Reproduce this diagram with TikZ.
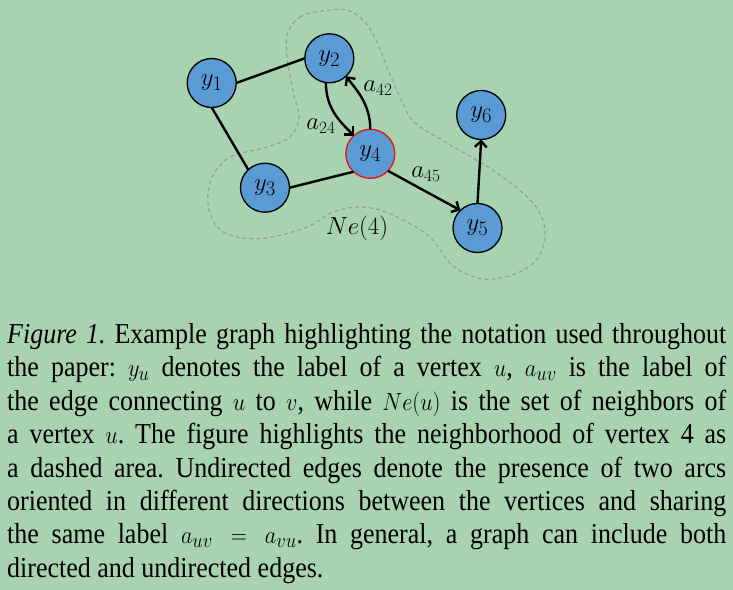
\documentclass[tikz,border=0pt]{standalone}
\usepackage{fontspec}
\setmainfont{Liberation Serif}
\usetikzlibrary{arrows.meta}
\definecolor{bg}{RGB}{169,210,176}
\definecolor{vblue}{RGB}{91,155,213}
\definecolor{dashgray}{RGB}{150,160,152}
\definecolor{vred}{RGB}{230,20,20}
\begin{document}
\begin{tikzpicture}[x=1bp,y=-1bp,
  vertex/.style={circle,draw=black,fill=vblue,line width=1.3bp,minimum size=49bp,inner sep=0pt,outer sep=0pt,font=\fontsize{29}{32}\selectfont},
  focus/.style={vertex,draw=vred},
  edge/.style={line width=2.4bp,draw=black},
  arc/.style={edge,-{Straight Barb[length=6bp,width=12bp]}},
  elabel/.style={font=\fontsize{23}{26}\selectfont,inner sep=0pt},
  hood/.style={draw=dashgray,line width=1.2bp,dash pattern=on 4bp off 3bp},
  caption/.style={anchor=north west,inner sep=0pt,xscale=0.9,transform shape,text width=799bp,align=justify,
      font=\fontsize{29}{33.5}\selectfont}]
\fill[bg] (0,0) rectangle (733,590);
\useasboundingbox (0,0) rectangle (733,590);
% neighbourhood region
\draw[hood] plot[smooth cycle,tension=0.55] coordinates {
 (287,35) (300,17) (322,11) (347,10) (365,22) (377,42) (387,67) (400,97)
 (414,122) (447,143) (497,173) (533,203) (545,230) (538,258) (515,274)
 (483,279) (453,266) (430,237) (403,220) (380,210) (357,207) (333,212)
 (307,227) (267,238) (237,237) (217,227) (208,203) (212,177) (230,157)
 (267,147) (290,137) (299,118) (294,95) (288,65)};
% vertices
\node[vertex] (y1) at (211.7,83) {$y_1$};
\node[vertex] (y2) at (329.3,58.3) {$y_2$};
\node[vertex] (y3) at (265,187.7) {$y_3$};
\node[focus]  (y4) at (370.3,153.8) {$y_4$};
\node[vertex] (y5) at (477.5,228) {$y_5$};
\node[vertex] (y6) at (481.2,115) {$y_6$};
% edges
\draw[edge] (y1.east) -- (y2.west);
\draw[edge] (y1.south) -- (y3.133);
\draw[edge] (y3.east) -- (y4.227);
\draw[arc] (y4.316) -- (y5.134);
\draw[arc] (y5.north) -- (y6.south);
\draw[arc] (y2.262) .. controls +(0,26) and +(-14,-14) .. (y4.132);
\draw[arc] (y4.90) .. controls +(0,-26) and +(9,12) .. (y2.313);
% labels
\node[elabel] (l42) at (378,88) {$a_{42}$};
\node[elabel] (l24) at (321,126) {$a_{24}$};
\node[elabel] (l45) at (426,174) {$a_{45}$};
\node[elabel] (lne) at (357,228) {$Ne(4)$};
% caption
\node[caption] (cap) at (7,320)
{\frenchspacing\hyphenpenalty=10000 \exhyphenpenalty=10000
\strut\textit{Figure 1.} Example graph highlighting the notation used throughout\linebreak
the paper: $y_u$ denotes the label of a vertex $u$, $a_{uv}$ is the label of\linebreak
the edge connecting $u$ to $v$, while $Ne(u)$ is the set of neighbors of\linebreak
a vertex $u$. The figure highlights the neighborhood of vertex 4 as\linebreak
a dashed area. Undirected edges denote the presence of two arcs\linebreak
oriented in different directions between the vertices and sharing\linebreak
the same label $a_{uv} = a_{vu}$. In general, a graph can include both\linebreak
directed and undirected edges.};
\end{tikzpicture}
\end{document}
